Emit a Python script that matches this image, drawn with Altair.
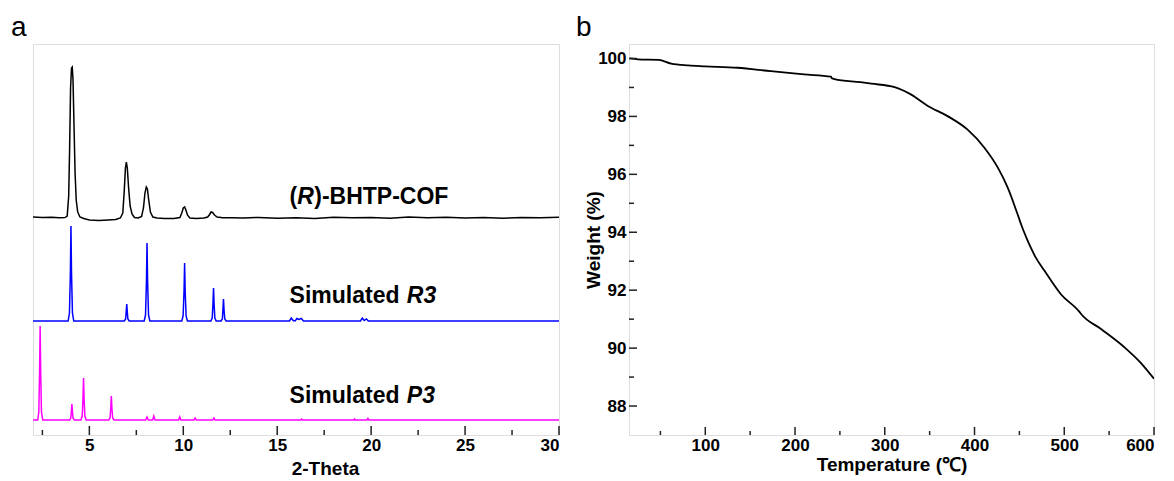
import altair as alt
import pandas as pd

FONT = "Liberation Sans"

# ---------------- XRD patterns (panel a) ----------------
cof_tt = [2.0, 2.5, 3.0, 3.4, 3.7, 3.82, 3.9, 3.95, 4.0, 4.05, 4.09, 4.13, 4.18, 4.24, 4.3, 4.38, 4.5, 4.7,
          5.0, 5.5, 6.0, 6.4, 6.65, 6.78, 6.86, 6.92, 6.97, 7.02, 7.09, 7.17, 7.27, 7.4, 7.6, 7.78, 7.88,
          7.96, 8.03, 8.09, 8.16, 8.25, 8.38, 8.6, 9.0, 9.5, 9.82, 9.92, 10.0, 10.07, 10.14, 10.22, 10.35,
          10.7, 11.1, 11.3, 11.4, 11.48, 11.56, 11.66, 11.8, 12.1, 12.6, 13.2, 14.0, 15.0, 16.0, 17.0,
          18.0, 19.0, 20.0, 21.0, 22.0, 23.0, 24.0, 25.0, 26.0, 27.0, 28.0, 29.0, 30.0]
cof_int = [1.0, 0.6, 0.8, 0.3, 0.5, 2, 22, 70, 130, 150, 151, 138, 95, 45, 18, 6, 1, -0.5,
           -2, -2.5, -2, -1.5, 0, 5, 28, 50, 56, 50, 30, 12, 4, 0.5, 0, 1.5, 10,
           25, 31, 29, 18, 6, 1, 0, -0.5, -0.5, 0.5, 5, 10, 11, 8, 3, 0,
           -0.5, 0, 1, 3.5, 6, 5.5, 3, 1, 0.3, 0.2, 0, 0.6, -0.2, 0.3, -0.5,
           0.8, 0.2, 0.6, -0.2, 0.9, 0.3, 0.7, 0, 0.4, -0.3, 0.5, 0.2, 0.7]

r3_tt = [2.0, 3.87, 3.94, 3.99, 4.02, 4.05, 4.10, 4.17,
         6.86, 6.93, 6.96, 6.99, 7.02, 7.05, 7.12,
         7.92, 7.99, 8.04, 8.07, 8.10, 8.15, 8.22,
         9.92, 9.99, 10.04, 10.07, 10.10, 10.15, 10.22,
         11.47, 11.54, 11.58, 11.61, 11.64, 11.68, 11.75,
         12.01, 12.08, 12.11, 12.14, 12.17, 12.21, 12.28,
         15.65, 15.75, 15.85, 15.95, 16.05, 16.15, 16.28, 16.4,
         19.43, 19.53, 19.63, 19.75, 19.85, 30.0]
r3_int = [0, 0, 8, 48, 95, 48, 8, 0,
          0, 2, 9, 17, 9, 2, 0,
          0, 6, 40, 78, 40, 6, 0,
          0, 5, 30, 58, 30, 5, 0,
          0, 3, 17, 33, 17, 3, 0,
          0, 2, 11, 22, 11, 2, 0,
          0, 3, 0.5, 0, 2.5, 1.5, 2.5, 0,
          0, 3, 0.5, 2, 0, 0]

p3_tt = [2.0, 2.25, 2.31, 2.35, 2.38, 2.41, 2.45, 2.52,
         3.95, 4.01, 4.04, 4.07, 4.10, 4.13, 4.20,
         4.55, 4.62, 4.66, 4.69, 4.72, 4.76, 4.83,
         6.03, 6.10, 6.14, 6.17, 6.20, 6.24, 6.31,
         8.00, 8.07, 8.14, 8.37, 8.43, 8.50,
         9.75, 9.81, 9.87, 10.57, 10.63, 10.69, 11.57, 11.63, 11.69,
         16.25, 16.30, 16.35, 19.08, 19.12, 19.16, 19.78, 19.83, 19.88, 30.0]
p3_int = [0, 0, 8, 48, 94, 48, 8, 0,
          0, 2, 8, 16, 8, 2, 0,
          0, 4, 21, 42, 21, 4, 0,
          0, 2, 12, 24, 12, 2, 0,
          0, 3, 0, 0, 4, 0,
          0, 3, 0, 0, 2, 0, 0, 2, 0,
          0, 1, 0, 0, 1, 0, 0, 1.5, 0, 0]

offset_cof, offset_r3, offset_p3 = 217, 114, 15

xrd_x_major = [5, 10, 15, 20, 25, 30]
xrd_x_minor = [2.5, 7.5, 12.5, 17.5, 22.5, 27.5]

# text pieces (upright / italic), anchored in data coordinates
label_names = ["(", "R", ")-BHTP-COF", "Simulated ", "R3", "Simulated ", "P3"]
label_x = [15.66, 16.07, 16.97, 15.66, 21.90, 15.66, 21.90]
label_y = [231.3, 231.3, 231.3, 132.3, 132.3, 32.3, 32.3]
label_style = ["normal", "italic", "normal", "normal", "italic", "normal", "italic"]

# ---------------- TGA curve (panel b) ----------------
tga_T = [15.7, 25, 48, 62, 81, 100, 136, 173, 210, 240, 241, 244, 273, 285, 311, 329, 348, 370, 392,
         411, 426, 437, 448, 453, 458, 463, 468, 478, 496, 517, 519, 541, 567, 585, 600]
tga_W = [100.0, 99.97, 99.95, 99.82, 99.76, 99.73, 99.68, 99.56, 99.45, 99.37, 99.32, 99.29, 99.18,
         99.13, 99.01, 98.76, 98.36, 98.01, 97.55, 96.92, 96.23, 95.54, 94.62, 94.18, 93.80, 93.45,
         93.14, 92.67, 91.87, 91.25, 91.17, 90.66, 90.03, 89.5, 88.94]

tga_x_major = [100, 200, 300, 400, 500, 600]
tga_x_minor = [50, 150, 250, 350, 450, 550]
tga_y_major = [88, 90, 92, 94, 96, 98, 100]
tga_y_minor = [89, 91, 93, 95, 97, 99]

W_L, H = 526, 391
W_R = 525

common = dict(labelFont=FONT, labelFontWeight="bold", labelColor="#000",
              titleFont=FONT, titleFontSize=19, titleFontWeight="bold", titleColor="#000",
              domain=False, ticks=False, tickSize=0, grid=False)

# ----- left panel -----
xs_l = alt.Scale(domain=[2, 30], nice=False, zero=False)
ys_l = alt.Scale(domain=[0, H], nice=False, zero=False)
x_axis_l = alt.Axis(values=xrd_x_major, title="2-Theta", labelPadding=2, labelFontSize=17,
                    titleX=292, titleY=39, titleAlign="center", titleBaseline="alphabetic", **common)


def trace(tt, inten, off, color):
    df = pd.DataFrame({"tt": tt, "i": inten})
    df["y"] = df["i"] + off
    return alt.Chart(df).mark_line(color=color, strokeWidth=1.5, clip=True).encode(
        x=alt.X("tt:Q", scale=xs_l, axis=x_axis_l),
        y=alt.Y("y:Q", scale=ys_l, axis=None),
    )


cof = trace(cof_tt, cof_int, offset_cof, "#000000")
r3 = trace(r3_tt, r3_int, offset_r3, "#0000FF")
p3 = trace(p3_tt, p3_int, offset_p3, "#FF00FF")

ticks_l_major = alt.Chart(pd.DataFrame({"tt": xrd_x_major})).mark_rule(color="#222", strokeWidth=1.5).encode(
    x=alt.X("tt:Q", scale=xs_l, axis=x_axis_l), y=alt.value(H), y2=alt.value(H - 9))
ticks_l_minor = alt.Chart(pd.DataFrame({"tt": xrd_x_minor})).mark_rule(color="#222", strokeWidth=1.5).encode(
    x=alt.X("tt:Q", scale=xs_l, axis=x_axis_l), y=alt.value(H), y2=alt.value(H - 5))

labels_df = pd.DataFrame({"t": label_names, "tt": label_x, "y": label_y})
labels = []
for i in range(len(label_names)):
    sub = labels_df.iloc[[i]].reset_index(drop=True)
    labels.append(alt.Chart(sub).mark_text(font=FONT, fontSize=23, fontWeight="bold", fontStyle=label_style[i],
                                           align="left", baseline="alphabetic", color="#000").encode(
        x=alt.X("tt:Q", scale=xs_l, axis=x_axis_l), y=alt.Y("y:Q", scale=ys_l, axis=None), text="t:N"))

panel_a = alt.Chart(pd.DataFrame({"t": ["a"]})).mark_text(font=FONT, fontSize=28, align="left",
                                                           baseline="alphabetic", color="#000").encode(
    text="t:N", x=alt.value(-22), y=alt.value(-8))

left = alt.layer(cof, r3, p3, ticks_l_major, ticks_l_minor, *labels, panel_a).properties(width=W_L, height=H)

# ----- right panel -----
xs_r = alt.Scale(domain=[15, 600], nice=False, zero=False)
ys_r = alt.Scale(domain=[87, 100.5], nice=False, zero=False)
x_axis_r = alt.Axis(values=tga_x_major, title="Temperature (℃)", labelPadding=2, labelFontSize=17,
                    titleY=35, titleBaseline="alphabetic", **common)
y_axis_r = alt.Axis(values=tga_y_major, title="Weight (%)", labelPadding=3, labelFontSize=17,
                    titleX=-36, titleBaseline="middle", **common)

tga_df = pd.DataFrame({"T": tga_T, "W": tga_W})
tga = alt.Chart(tga_df).mark_line(color="#000", strokeWidth=1.8, clip=True, interpolate="monotone").encode(
    x=alt.X("T:Q", scale=xs_r, axis=x_axis_r), y=alt.Y("W:Q", scale=ys_r, axis=y_axis_r))

tx_maj = alt.Chart(pd.DataFrame({"T": tga_x_major})).mark_rule(color="#222", strokeWidth=1.5).encode(
    x=alt.X("T:Q", scale=xs_r, axis=x_axis_r), y=alt.value(H), y2=alt.value(H - 8))
tx_min = alt.Chart(pd.DataFrame({"T": tga_x_minor})).mark_rule(color="#222", strokeWidth=1.5).encode(
    x=alt.X("T:Q", scale=xs_r, axis=x_axis_r), y=alt.value(H), y2=alt.value(H - 4))
ty_maj = alt.Chart(pd.DataFrame({"W": tga_y_major})).mark_rule(color="#222", strokeWidth=1.5).encode(
    y=alt.Y("W:Q", scale=ys_r, axis=y_axis_r), x=alt.value(0), x2=alt.value(8))
ty_min = alt.Chart(pd.DataFrame({"W": tga_y_minor})).mark_rule(color="#222", strokeWidth=1.5).encode(
    y=alt.Y("W:Q", scale=ys_r, axis=y_axis_r), x=alt.value(0), x2=alt.value(5))

panel_b = alt.Chart(pd.DataFrame({"t": ["b"]})).mark_text(font=FONT, fontSize=28, align="left",
                                                           baseline="alphabetic", color="#000").encode(
    text="t:N", x=alt.value(-53), y=alt.value(-8))

right = alt.layer(tga, tx_maj, tx_min, ty_maj, ty_min, panel_b).properties(width=W_R, height=H)

chart = alt.hconcat(left, right, spacing=14).properties(
    padding={"left": 2, "top": 5, "right": 0, "bottom": 0}
).configure_view(stroke="#222", strokeWidth=1.5).configure(font=FONT)

chart.save("out.html", embed_options={"renderer": "svg", "actions": False})
